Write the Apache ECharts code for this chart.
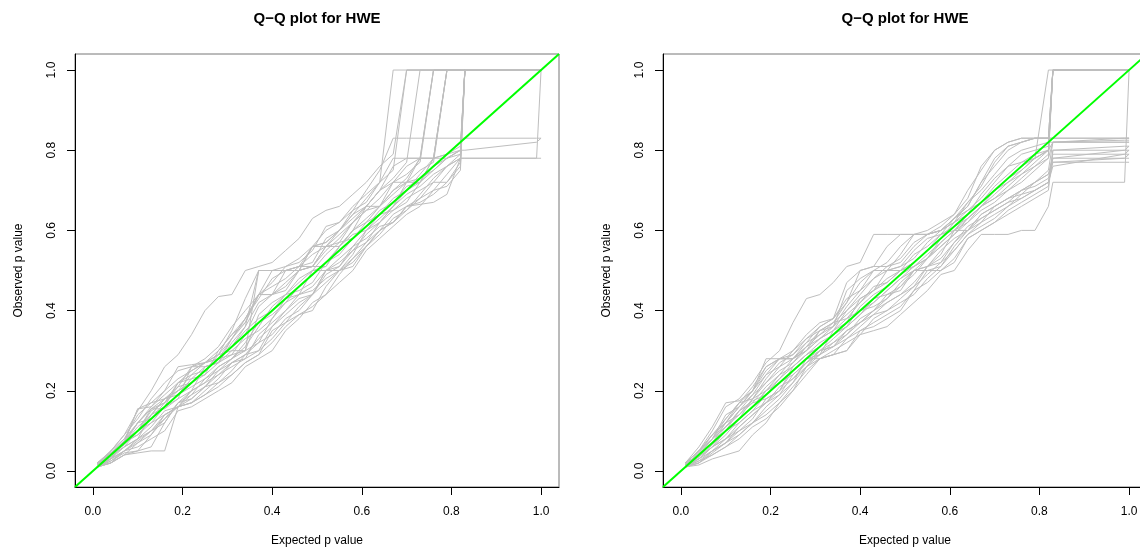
<!DOCTYPE html>
<html>
<head>
<meta charset="utf-8">
<script src="https://cdn.jsdelivr.net/npm/echarts@6/dist/echarts.min.js"></script>
<style>
html, body { margin: 0; padding: 0; background: #fff; }
#main { width: 1140px; height: 554px; }
</style>
</head>
<body>
<div id="main"></div>
<script>
// expected p values (shared x positions of every Q-Q curve)
var expectedP = [0.01,0.04,0.07,0.10,0.13,0.16,0.19,0.22,0.25,0.28,0.31,0.34,0.37,0.40,0.43,0.46,0.49,0.52,0.55,0.58,0.61,0.64,0.67,0.70,0.73,0.76,0.79,0.82,0.83,0.99,1.0];

// left panel: observed p values, one array per curve
var l01 = [0.02,0.05,0.09,0.15,0.20,0.26,0.29,0.34,0.40,0.435,0.44,0.50,0.51,0.52,0.55,0.58,0.63,0.65,0.66,0.69,0.72,0.76,0.79,1,1,1,1,1,1,1,1];
var l02 = [0.01,0.02,0.04,0.045,0.05,0.05,0.16,0.17,0.19,0.22,0.24,0.27,0.29,0.35,0.37,0.39,0.40,0.46,0.50,0.51,0.56,0.60,0.62,0.66,0.665,0.67,0.69,0.78,0.78,0.78,0.78];
var l03 = [0.02,0.04,0.075,0.12,0.16,0.19,0.22,0.25,0.27,0.28,0.33,0.38,0.44,0.44,0.50,0.51,0.51,0.56,0.60,0.65,0.70,0.75,0.83,0.83,0.83,0.83,0.83,0.83,0.83,0.83,0.83];
var l04 = [0.01,0.03,0.07,0.09,0.12,0.16,0.18,0.20,0.26,0.27,0.30,0.33,0.35,0.38,0.43,0.44,0.50,0.50,0.53,0.56,0.60,0.63,0.66,0.72,0.73,0.75,0.78,0.80,0.80,0.82,0.83];
var l05 = [0.015,0.045,0.075,0.155,0.16,0.20,0.26,0.265,0.27,0.29,0.35,0.43,0.50,0.50,0.50,0.51,0.56,0.60,0.62,0.66,0.69,0.72,0.78,0.78,0.78,1,1,1,1,1,1];
var l06 = [0.01,0.02,0.05,0.07,0.10,0.12,0.17,0.18,0.21,0.24,0.26,0.28,0.30,0.36,0.40,0.43,0.44,0.50,0.51,0.56,0.58,0.61,0.62,0.66,0.68,0.72,0.72,0.76,1,1,1];
var l07 = [0.02,0.04,0.06,0.10,0.15,0.17,0.20,0.24,0.25,0.28,0.29,0.30,0.39,0.42,0.44,0.47,0.50,0.51,0.56,0.60,0.62,0.66,0.70,0.72,0.75,0.77,1,1,1,1,1];
var l08 = [0.01,0.035,0.06,0.08,0.11,0.15,0.16,0.19,0.23,0.26,0.28,0.31,0.36,0.41,0.44,0.45,0.47,0.52,0.56,0.59,0.60,0.62,0.66,0.70,0.72,0.76,0.78,0.80,1,1,1];
var l09 = [0.02,0.05,0.09,0.13,0.18,0.22,0.25,0.26,0.28,0.31,0.36,0.40,0.44,0.47,0.51,0.53,0.56,0.57,0.60,0.63,0.66,0.70,0.73,0.77,1,1,1,1,1,1,1];
var l10 = [0.01,0.025,0.045,0.05,0.09,0.14,0.16,0.17,0.20,0.23,0.27,0.29,0.32,0.34,0.38,0.40,0.44,0.47,0.50,0.54,0.60,0.64,0.65,0.68,0.70,0.72,0.76,0.79,1,1,1];
var l11 = [0.015,0.04,0.07,0.11,0.14,0.16,0.22,0.23,0.24,0.27,0.32,0.36,0.42,0.44,0.47,0.50,0.51,0.55,0.58,0.62,0.65,0.68,0.72,0.74,0.77,1,1,1,1,1,1];
var l12 = [0.02,0.03,0.06,0.08,0.14,0.18,0.19,0.21,0.23,0.25,0.28,0.32,0.37,0.39,0.42,0.46,0.49,0.52,0.54,0.58,0.62,0.64,0.68,0.70,0.74,0.78,0.79,0.81,1,1,1];
var l13 = [0.02,0.045,0.08,0.14,0.17,0.20,0.23,0.25,0.27,0.30,0.34,0.38,0.43,0.48,0.50,0.51,0.52,0.58,0.60,0.64,0.68,0.72,1,1,1,1,1,1,1,1,1];
var l14 = [0.01,0.03,0.05,0.06,0.08,0.10,0.15,0.16,0.18,0.20,0.22,0.26,0.28,0.30,0.35,0.38,0.42,0.44,0.47,0.50,0.55,0.58,0.61,0.64,0.66,0.70,0.71,0.75,1,1,1];
var l15 = [0.015,0.05,0.08,0.12,0.13,0.17,0.21,0.22,0.25,0.28,0.31,0.35,0.38,0.40,0.44,0.48,0.50,0.54,0.57,0.58,0.61,0.65,0.67,0.71,0.72,0.78,1,1,1,1,1];
var l16 = [0.01,0.02,0.04,0.07,0.09,0.13,0.17,0.20,0.22,0.24,0.27,0.28,0.34,0.37,0.40,0.44,0.45,0.48,0.50,0.52,0.56,0.59,0.63,0.65,0.69,0.73,0.76,0.78,0.78,0.78,1];
var l17 = [0.02,0.04,0.07,0.155,0.17,0.18,0.20,0.22,0.25,0.29,0.30,0.30,0.50,0.50,0.50,0.50,0.51,0.56,0.56,0.60,0.66,0.66,0.72,0.72,0.72,0.78,0.78,0.79,1,1,1];
var l18 = [0.01,0.03,0.075,0.10,0.12,0.14,0.16,0.18,0.21,0.22,0.25,0.29,0.33,0.36,0.39,0.42,0.44,0.50,0.52,0.55,0.59,0.62,0.65,0.67,0.72,0.75,0.78,0.80,1,1,1];
var l19 = [0.02,0.04,0.07,0.10,0.155,0.155,0.18,0.26,0.26,0.27,0.33,0.37,0.44,0.44,0.45,0.50,0.56,0.56,0.57,0.62,0.65,0.66,0.70,0.73,0.78,0.78,1,1,1,1,1];
var l20 = [0.01,0.02,0.04,0.05,0.06,0.12,0.17,0.19,0.21,0.25,0.27,0.29,0.30,0.33,0.37,0.41,0.44,0.49,0.51,0.55,0.57,0.60,0.64,0.66,0.67,0.69,0.72,0.77,1,1,1];
var l21 = [0.015,0.04,0.075,0.09,0.13,0.16,0.19,0.23,0.26,0.27,0.29,0.34,0.41,0.44,0.46,0.50,0.51,0.51,0.56,0.60,0.63,0.66,0.69,0.72,0.78,0.78,0.79,0.80,1,1,1];
var l22 = [0.02,0.045,0.07,0.12,0.155,0.18,0.21,0.26,0.27,0.28,0.31,0.36,0.50,0.50,0.51,0.52,0.55,0.61,0.62,0.65,0.67,0.72,0.75,1,1,1,1,1,1,1,1];
var l23 = [0.01,0.025,0.05,0.075,0.10,0.13,0.16,0.20,0.22,0.26,0.28,0.30,0.32,0.38,0.42,0.44,0.46,0.50,0.50,0.53,0.57,0.62,0.66,0.69,0.71,0.74,0.76,0.78,1,1,1];
var l24 = [0.02,0.04,0.065,0.10,0.14,0.18,0.20,0.22,0.24,0.30,0.34,0.37,0.44,0.50,0.50,0.50,0.56,0.57,0.60,0.64,0.66,0.70,0.76,0.78,0.78,0.78,1,1,1,1,1];
var l25 = [0.01,0.03,0.05,0.08,0.10,0.14,0.16,0.17,0.19,0.21,0.24,0.27,0.29,0.32,0.36,0.39,0.41,0.44,0.49,0.53,0.56,0.60,0.62,0.65,0.68,0.70,0.74,0.78,1,1,1];
var l26 = [0.015,0.035,0.07,0.12,0.155,0.17,0.22,0.24,0.27,0.29,0.33,0.38,0.44,0.46,0.48,0.51,0.54,0.56,0.59,0.62,0.66,0.70,0.72,0.76,0.78,1,1,1,1,1,1];

// right panel
var r01 = [0.02,0.05,0.10,0.16,0.18,0.22,0.27,0.30,0.37,0.43,0.44,0.47,0.51,0.52,0.59,0.59,0.59,0.59,0.60,0.62,0.64,0.68,0.76,0.80,0.82,0.83,0.83,0.83,1,1,1];
var r02 = [0.01,0.015,0.03,0.04,0.05,0.09,0.12,0.17,0.20,0.26,0.28,0.29,0.30,0.34,0.35,0.36,0.39,0.42,0.45,0.49,0.50,0.55,0.59,0.59,0.59,0.60,0.60,0.66,0.72,0.72,1];
var r03 = [0.015,0.04,0.08,0.12,0.17,0.20,0.26,0.28,0.28,0.30,0.35,0.37,0.42,0.50,0.51,0.51,0.52,0.56,0.59,0.60,0.63,0.66,0.72,0.78,0.81,0.82,0.83,0.83,0.83,0.83,0.83];
var r04 = [0.01,0.03,0.06,0.09,0.13,0.16,0.20,0.23,0.26,0.29,0.31,0.34,0.37,0.40,0.42,0.45,0.48,0.50,0.53,0.57,0.60,0.63,0.66,0.68,0.71,0.74,0.77,0.80,0.82,0.82,0.82];
var r05 = [0.02,0.05,0.09,0.13,0.17,0.18,0.23,0.27,0.29,0.33,0.35,0.36,0.45,0.48,0.50,0.50,0.54,0.59,0.59,0.60,0.62,0.65,0.68,0.72,0.76,0.77,0.78,0.80,1,1,1];
var r06 = [0.01,0.02,0.05,0.07,0.10,0.12,0.16,0.19,0.24,0.27,0.30,0.31,0.34,0.38,0.40,0.42,0.44,0.46,0.51,0.55,0.58,0.60,0.63,0.65,0.67,0.68,0.70,0.72,0.77,0.77,0.77];
var r07 = [0.015,0.045,0.08,0.11,0.15,0.19,0.22,0.25,0.27,0.30,0.33,0.35,0.40,0.43,0.45,0.48,0.50,0.52,0.55,0.59,0.61,0.64,0.67,0.70,0.72,0.75,0.78,1,1,1,1];
var r08 = [0.01,0.035,0.06,0.10,0.12,0.15,0.19,0.22,0.25,0.28,0.30,0.33,0.36,0.39,0.43,0.44,0.46,0.50,0.51,0.54,0.60,0.60,0.64,0.66,0.68,0.70,0.72,0.74,0.79,0.79,0.80];
var r09 = [0.02,0.06,0.11,0.17,0.175,0.20,0.28,0.28,0.28,0.32,0.36,0.38,0.47,0.50,0.51,0.56,0.59,0.59,0.59,0.61,0.64,0.70,0.75,0.80,0.82,0.83,0.83,0.83,1,1,1];
var r10 = [0.01,0.025,0.04,0.06,0.09,0.12,0.15,0.18,0.22,0.28,0.28,0.29,0.33,0.35,0.37,0.39,0.41,0.45,0.47,0.50,0.52,0.58,0.60,0.62,0.64,0.66,0.68,0.70,0.80,0.81,0.81];
var r11 = [0.02,0.04,0.07,0.12,0.14,0.17,0.21,0.24,0.28,0.31,0.34,0.37,0.38,0.42,0.46,0.47,0.50,0.54,0.56,0.59,0.63,0.65,0.67,0.70,0.73,0.76,0.78,0.80,1,1,1];
var r12 = [0.015,0.03,0.06,0.08,0.11,0.14,0.17,0.21,0.23,0.26,0.29,0.32,0.35,0.37,0.40,0.44,0.45,0.50,0.51,0.52,0.57,0.61,0.63,0.65,0.67,0.70,0.72,0.75,0.82,0.83,0.83];
var r13 = [0.01,0.04,0.07,0.10,0.15,0.17,0.18,0.20,0.26,0.29,0.32,0.34,0.36,0.41,0.44,0.46,0.49,0.51,0.54,0.57,0.60,0.62,0.65,0.67,0.70,0.72,0.75,0.78,1,1,1];
var r14 = [0.02,0.05,0.08,0.14,0.16,0.20,0.24,0.26,0.30,0.34,0.37,0.38,0.43,0.45,0.48,0.51,0.53,0.57,0.59,0.60,0.62,0.67,0.70,0.74,0.78,0.80,0.81,0.82,0.82,0.82,0.82];
var r15 = [0.01,0.02,0.04,0.06,0.08,0.11,0.13,0.16,0.20,0.24,0.28,0.30,0.32,0.34,0.38,0.40,0.42,0.44,0.48,0.51,0.55,0.59,0.61,0.63,0.66,0.69,0.70,0.72,0.78,0.78,0.79];
var r16 = [0.015,0.04,0.07,0.10,0.13,0.18,0.20,0.22,0.24,0.27,0.29,0.35,0.38,0.40,0.41,0.43,0.46,0.49,0.53,0.56,0.59,0.62,0.66,0.69,0.72,0.74,0.76,0.79,1,1,1];
var r17 = [0.02,0.05,0.08,0.13,0.17,0.21,0.26,0.28,0.29,0.32,0.34,0.36,0.41,0.45,0.50,0.50,0.51,0.53,0.57,0.60,0.63,0.66,0.72,0.76,0.80,0.82,0.83,0.83,0.83,0.83,0.83];
var r18 = [0.01,0.025,0.05,0.08,0.12,0.15,0.17,0.20,0.23,0.27,0.30,0.32,0.34,0.37,0.40,0.43,0.47,0.50,0.50,0.51,0.56,0.60,0.62,0.66,0.68,0.70,0.71,0.73,0.78,0.80,0.81];
var r19 = [0.015,0.045,0.09,0.12,0.16,0.19,0.24,0.28,0.28,0.31,0.35,0.37,0.40,0.44,0.48,0.50,0.51,0.55,0.58,0.59,0.60,0.64,0.69,0.73,0.76,0.79,0.80,0.81,1,1,1];
var r20 = [0.01,0.03,0.06,0.08,0.10,0.13,0.18,0.20,0.25,0.28,0.29,0.31,0.35,0.37,0.39,0.42,0.44,0.47,0.51,0.53,0.57,0.60,0.64,0.66,0.68,0.69,0.72,0.74,0.77,0.78,0.78];
var r21 = [0.02,0.04,0.08,0.11,0.14,0.18,0.22,0.26,0.28,0.30,0.33,0.36,0.39,0.42,0.45,0.50,0.50,0.52,0.55,0.58,0.62,0.64,0.67,0.71,0.74,0.77,0.79,0.80,1,1,1];
var r22 = [0.01,0.02,0.045,0.07,0.09,0.12,0.14,0.17,0.21,0.25,0.28,0.29,0.30,0.35,0.36,0.38,0.40,0.45,0.50,0.50,0.53,0.58,0.60,0.62,0.65,0.67,0.69,0.71,0.80,0.80,0.80];
var r23 = [0.015,0.04,0.07,0.11,0.15,0.175,0.19,0.23,0.27,0.31,0.33,0.35,0.37,0.43,0.45,0.47,0.50,0.51,0.53,0.56,0.59,0.63,0.66,0.68,0.70,0.73,0.76,0.78,0.82,0.825,0.825];
var r24 = [0.02,0.05,0.09,0.12,0.16,0.20,0.25,0.28,0.30,0.33,0.36,0.38,0.42,0.47,0.50,0.52,0.56,0.59,0.59,0.60,0.63,0.67,0.71,0.77,0.81,0.82,0.83,0.83,1,1,1];
var r25 = [0.01,0.03,0.05,0.07,0.11,0.14,0.17,0.19,0.22,0.26,0.30,0.31,0.33,0.36,0.39,0.40,0.43,0.46,0.49,0.52,0.55,0.59,0.62,0.64,0.66,0.68,0.70,0.72,0.76,0.79,0.79];
var r26 = [0.015,0.035,0.065,0.10,0.13,0.16,0.20,0.24,0.26,0.29,0.31,0.34,0.36,0.39,0.42,0.45,0.48,0.51,0.53,0.58,0.61,0.63,0.66,0.70,0.73,0.75,0.78,0.80,1,1,1];

var tickVals = [0, 0.2, 0.4, 0.6, 0.8, 1.0];
var titleText = 'Q\u2212Q plot for HWE';

var panels = [
    [l01,l02,l03,l04,l05,l06,l07,l08,l09,l10,l11,l12,l13,l14,l15,l16,l17,l18,l19,l20,l21,l22,l23,l24,l25,l26],
    [r01,r02,r03,r04,r05,r06,r07,r08,r09,r10,r11,r12,r13,r14,r15,r16,r17,r18,r19,r20,r21,r22,r23,r24,r25,r26]
];

var FONT = '"Liberation Sans", Arial, Helvetica, sans-serif';
var lo = -0.04, hi = 1.04;   // R's 4% axis padding
var boxes = [
    {left: 75, top: 54, width: 484, height: 433},
    {left: 663, top: 54, width: 484, height: 433}
];

var chart = echarts.init(document.getElementById('main'));

var grids = [], xAxes = [], yAxes = [], titles = [], series = [];

boxes.forEach(function(b, i) {
    grids.push({
        left: b.left, top: b.top, width: b.width, height: b.height,
        show: true, borderColor: '#777', borderWidth: 1,
        containLabel: false, outerBoundsMode: 'none'
    });
    titles.push({
        text: titleText,
        left: b.left + b.width / 2, top: 11, textAlign: 'center', padding: 0,
        textStyle: {fontFamily: FONT, fontWeight: 'bold', fontSize: 15, color: '#000'}
    });
    xAxes.push({
        gridIndex: i, type: 'value', min: lo, max: hi,
        name: 'Expected p value', nameLocation: 'middle', nameGap: 48,
        nameTextStyle: {fontFamily: FONT, fontSize: 12, color: '#000'},
        axisLine: {show: true, onZero: false, lineStyle: {color: '#000', width: 1}},
        axisTick: {show: true, length: 8, customValues: tickVals, lineStyle: {color: '#000'}},
        axisLabel: {customValues: tickVals, margin: 19, fontFamily: FONT, fontSize: 12, color: '#000',
            formatter: function(v) { return v.toFixed(1); }},
        splitLine: {show: false}
    });
    yAxes.push({
        gridIndex: i, type: 'value', min: lo, max: hi,
        name: 'Observed p value', nameLocation: 'middle', nameGap: 50, nameRotate: 90,
        nameTextStyle: {fontFamily: FONT, fontSize: 12, color: '#000'},
        axisLine: {show: true, onZero: false, lineStyle: {color: '#000', width: 1}},
        axisTick: {show: true, length: 8, customValues: tickVals, lineStyle: {color: '#000'}},
        axisLabel: {customValues: tickVals, rotate: 90, margin: 17, fontFamily: FONT, fontSize: 12, color: '#000',
            formatter: function(v) { return v.toFixed(1); }},
        splitLine: {show: false}
    });

    panels[i].forEach(function(obs) {
        series.push({
            type: 'line', xAxisIndex: i, yAxisIndex: i,
            data: expectedP.map(function(x, k) { return [x, obs[k]]; }),
            symbol: 'none', silent: true, z: 2,
            lineStyle: {color: '#bebebe', width: 1}
        });
    });

    // y = x reference line across the whole plotting box
    series.push({
        type: 'line', xAxisIndex: i, yAxisIndex: i,
        data: [[lo, lo], [hi, hi]],
        symbol: 'none', silent: true, z: 5,
        lineStyle: {color: '#00ff00', width: 2}
    });
});

chart.setOption({
    animation: false,
    backgroundColor: '#fff',
    title: titles,
    grid: grids,
    xAxis: xAxes,
    yAxis: yAxes,
    series: series
});
</script>
</body>
</html>
